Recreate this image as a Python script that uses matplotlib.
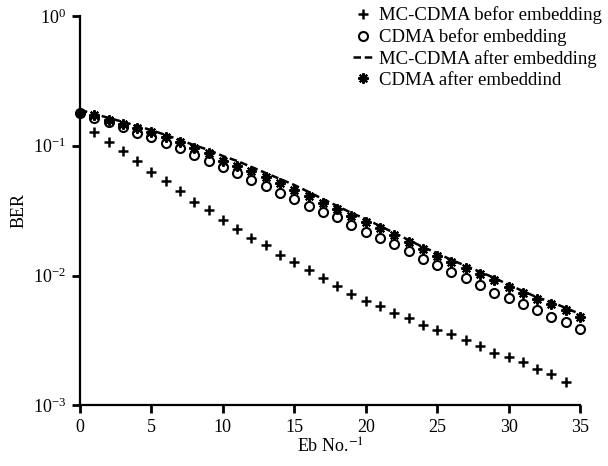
import matplotlib
matplotlib.use("Agg")
import matplotlib.pyplot as plt

plt.rcParams["font.family"] = ["Liberation Serif", "DejaVu Serif"]
plt.rcParams["mathtext.fontset"] = "stix"

# Eb/No 축과 각 곡선의 BER 값
eb_no = list(range(0, 36))
eb_no_mc_before = list(range(0, 35))

ber_mc_before = [0.179, 0.128, 0.107, 0.091, 0.076, 0.063, 0.054, 0.045, 0.037, 0.032,
                 0.027, 0.023, 0.0195, 0.0172, 0.0144, 0.0127, 0.011, 0.0096, 0.0083, 0.0072,
                 0.0064, 0.0058, 0.00515, 0.0047, 0.0042, 0.0038, 0.00355, 0.00319, 0.00287,
                 0.00253, 0.00236, 0.00216, 0.00191, 0.00174, 0.00151]
ber_cdma_before = [0.179, 0.164, 0.152, 0.140, 0.126, 0.117, 0.105, 0.096, 0.085, 0.076,
                   0.0687, 0.0617, 0.0545, 0.049, 0.0433, 0.039, 0.0344, 0.0309, 0.0283, 0.0245,
                   0.0217, 0.0195, 0.0175, 0.0155, 0.0134, 0.0121, 0.0107, 0.0096, 0.0085,
                   0.0073, 0.00675, 0.0060, 0.0054, 0.0048, 0.0044, 0.0039]
ber_mc_after = [0.189, 0.176, 0.164, 0.153, 0.142, 0.132, 0.121, 0.111, 0.101, 0.0929,
                0.0834, 0.0764, 0.0687, 0.0617, 0.0555, 0.0499, 0.0441, 0.0389, 0.0344, 0.0304,
                0.0273, 0.0241, 0.0213, 0.0188, 0.0166, 0.0149, 0.0132, 0.0119, 0.0107,
                0.0096, 0.0085, 0.0076, 0.0068, 0.00626, 0.00563, 0.00506]
ber_cdma_after = [0.179, 0.173, 0.158, 0.147, 0.137, 0.128, 0.117, 0.107, 0.096, 0.088,
                  0.077, 0.070, 0.064, 0.0575, 0.0517, 0.0457, 0.041, 0.0363, 0.0326, 0.0288,
                  0.0259, 0.0233, 0.0205, 0.0181, 0.016, 0.0142, 0.0127, 0.0114, 0.0103,
                  0.0092, 0.0082, 0.0073, 0.0066, 0.006, 0.0054, 0.0048]

labels = ["MC-CDMA befor embedding", "CDMA befor embedding",
          "MC-CDMA after embedding", "CDMA after embeddind"]

fig = plt.figure(figsize=(6.08, 4.66), dpi=100)
ax = fig.add_axes([0.1316, 0.130, 0.8224, 0.8357])

h1, = ax.plot(eb_no_mc_before, ber_mc_before, linestyle="none", marker="+",
              markersize=6.5, markeredgewidth=1.8, color="black", clip_on=False)
h2, = ax.plot(eb_no, ber_cdma_before, linestyle="none", marker="o",
              markersize=6.5, markerfacecolor="none", markeredgewidth=1.5,
              markeredgecolor="black", clip_on=False)
h3, = ax.plot(eb_no, ber_mc_after, linestyle=(0, (3, 1.5)), linewidth=1.8,
              color="black")
h4, = ax.plot(eb_no, ber_cdma_after, linestyle="none", marker=(8, 2, 0),
              markersize=7.5, markeredgewidth=1.5, color="black", clip_on=False)

ax.set_yscale("log")
ax.set_xlim(0, 35)
ax.set_ylim(1e-3, 1)
ax.set_xticks([0, 5, 10, 15, 20, 25, 30, 35])
ax.set_yticks([1e-3, 1e-2, 1e-1, 1])
ax.minorticks_off()
ax.tick_params(axis="both", direction="out", length=6, width=2, labelsize=13, pad=4)

ax.spines["top"].set_visible(False)
ax.spines["right"].set_visible(False)
ax.spines["left"].set_linewidth(1.6)
ax.spines["bottom"].set_linewidth(1.6)

ax.set_xlabel(r"Eb No.$^{-1}$", fontsize=13, labelpad=1)
ax.set_ylabel("BER", fontsize=13, labelpad=4)

fig.legend([h1, h2, h3, h4], labels, loc="upper right", bbox_to_anchor=(1.008, 1.01),
           frameon=False, fontsize=13.5, handlelength=1.0, handletextpad=0.35,
           labelspacing=0.2, borderaxespad=0.2)

plt.savefig("out.png", dpi=100)
